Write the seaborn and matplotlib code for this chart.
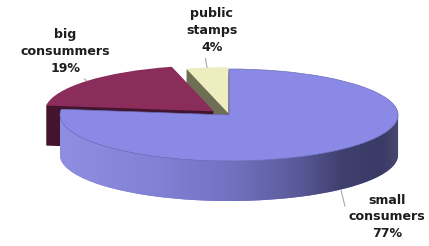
import numpy as np
import matplotlib
matplotlib.use("Agg")
import matplotlib.pyplot as plt
import seaborn as sns
from matplotlib.path import Path
from matplotlib.patches import PathPatch
from matplotlib.colors import LinearSegmentedColormap

# ---------------------------------------------------------------------------
# Data
# ---------------------------------------------------------------------------
labels = ["small\nconsumers", "big\nconsummers", "public\nstamps"]
shares = [77, 19, 4]
explode = [0.0, 0.12, 0.04]

TOP_COLORS = ["#8A8AE6", "#8B2D5B", "#EEEDC0"]
SIDE_COLORS = ["#7878CC", "#43142D", "#6E6E55"]
TEXT_COLOR = "#1E1E1E"
LEADER = "#A8A8A8"

DEPTH = 0.87       # thickness of the disc, in y data units
N_LAYERS = 50

sns.set_theme(style="white")
plt.rcParams["font.family"] = ["DejaVu Sans"]

fig = plt.figure(figsize=(4.29, 2.46), dpi=100)
fig.patch.set_facecolor("white")
ax = fig.add_axes([0, 0, 1, 1])

# --- body of the disc: stacked pies, bottom to top ---
for d in np.linspace(-DEPTH, 0, N_LAYERS, endpoint=False):
    ax.pie(shares, explode=explode, colors=SIDE_COLORS, startangle=90,
           counterclock=False, center=(0, d), radius=1, frame=True,
           wedgeprops=dict(linewidth=0, zorder=1))

# --- shaded front wall of the big slice ---
t = np.linspace(np.pi, 2 * np.pi, 240)
top_arc = np.column_stack([np.cos(t), np.sin(t)])
bot_arc = np.column_stack([np.cos(t[::-1]), np.sin(t[::-1]) - DEPTH])
wall = PathPatch(Path(np.vstack([top_arc, bot_arc, top_arc[:1]])),
                 facecolor="none", edgecolor="none")
ax.add_patch(wall)
side_cmap = LinearSegmentedColormap.from_list(
    "side",
    [(0.0, "#8E8EE2"), (0.30, "#8080D4"), (0.50, "#7272C2"),
     (0.70, "#5A5A9A"), (0.83, "#40406F"), (0.95, "#3A3A66"), (1.0, "#48486F")])
im = ax.imshow(np.linspace(0, 1, 256).reshape(1, -1), cmap=side_cmap,
               extent=(-1, 1, -1 - DEPTH, 0), aspect="auto", origin="lower",
               zorder=1.5)
im.set_clip_path(wall)

# --- top surface ---
wedges, _ = ax.pie(shares, explode=explode, colors=TOP_COLORS, startangle=90,
                   counterclock=False, center=(0, 0), radius=1, frame=True,
                   wedgeprops=dict(linewidth=0, zorder=2))
wedges[0].set_edgecolor("#6C6CB8")
wedges[0].set_linewidth(0.5)

# --- labels with leader lines ---
cum = np.concatenate([[0], np.cumsum(shares)]) / np.sum(shares)
text_pos = [(0.902, 0.118), (0.152, 0.79), (0.494, 0.876)]
relpos = [(0.0, 0.42), (0.58, 0.08), (0.36, 0.0)]
drop = [DEPTH, 0, 0]
for i, (lab, val) in enumerate(zip(labels, shares)):
    mid = np.deg2rad(90 - 360 * (cum[i] + cum[i + 1]) / 2)
    r = 1 + explode[i]
    xy = (r * np.cos(mid), r * np.sin(mid) - drop[i])
    ax.annotate(f"{lab}\n{val}%", xy=xy, xytext=text_pos[i],
                textcoords="axes fraction", ha="center", va="center",
                fontsize=9.1, fontweight="bold", color=TEXT_COLOR,
                linespacing=1.38, zorder=5,
                arrowprops=dict(arrowstyle="-", color=LEADER, lw=0.8,
                                shrinkA=1, shrinkB=0, relpos=relpos[i]))

ax.set_aspect("auto")
ax.set_xlim(-1.355, 1.183)
ax.set_ylim(-2.848, 2.5)
ax.axis("off")

fig.savefig("out.png", dpi=100, facecolor="white")
